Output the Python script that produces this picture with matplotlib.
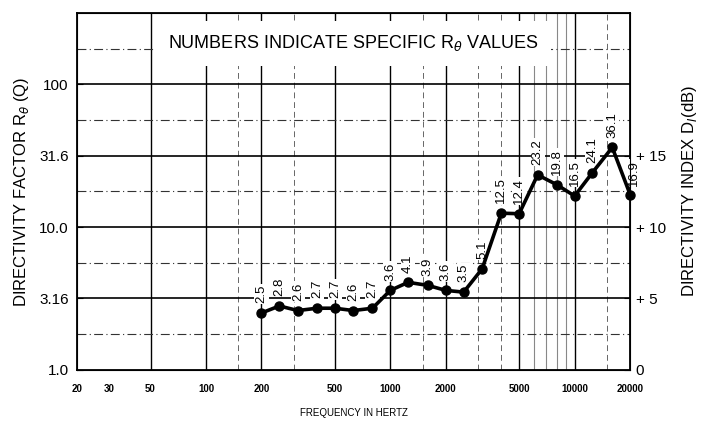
import matplotlib
matplotlib.use("Agg")
import matplotlib.pyplot as plt
import numpy as np

plt.rcParams['font.family'] = ['Liberation Sans', 'DejaVu Sans']

freqs = [200, 250, 315, 400, 500, 630, 800, 1000, 1250, 1600, 2000, 2500,
         3150, 4000, 5000, 6300, 8000, 10000, 12500, 16000, 20000]
q_values = [2.5, 2.8, 2.6, 2.7, 2.7, 2.6, 2.7, 3.6, 4.1, 3.9, 3.6, 3.5,
            5.1, 12.5, 12.4, 23.2, 19.8, 16.5, 24.1, 36.1, 16.9]

x_ticks = [20, 30, 50, 100, 200, 500, 1000, 2000, 5000, 10000, 20000]
y_ticks = [1.0, 3.16, 10.0, 31.6, 100]
y_tick_labels = ["1.0", "3.16", "10.0", "31.6", "100"]
di_ticks = [0, 5, 10, 15]
di_tick_labels = ["0", "+ 5", "+ 10", "+ 15"]

major_v = [50, 100, 200, 500, 1000, 2000, 5000, 10000]
dashed_v = [150, 300, 1500, 3000, 4000, 15000]
thin_v = [6000, 7000, 8000, 9000]
minor_h = [1.778, 5.623, 17.78, 56.23, 177.8]

fig = plt.figure(figsize=(7.08, 4.30), dpi=100)
ax = fig.add_axes([0.109, 0.140, 0.781, 0.830])
ax.set_xscale('log')
ax.set_yscale('log')
ax.set_xlim(20, 20000)
ax.set_ylim(1.0, 316.2)

for v in major_v:
    ax.axvline(v, color='black', lw=1.0, zorder=1)
for v in dashed_v:
    ax.axvline(v, color='#666666', lw=0.7, ls=(0, (6, 4)), zorder=1)
for v in thin_v:
    ax.axvline(v, color='#888888', lw=0.8, zorder=1)
for y in y_ticks[1:]:
    ax.axhline(y, color='black', lw=1.2, zorder=1)
for y in minor_h:
    ax.axhline(y, color='#333333', lw=0.8, ls=(0, (8, 3, 1, 3)), zorder=1)

ax.plot(freqs, q_values, color='black', lw=2.6, marker='o', ms=6.5, zorder=6,
        clip_on=False)

for f, q in zip(freqs, q_values):
    dx, dy = (3, 6) if f == 20000 else (0, 7)
    ax.annotate(f"{q}", (f, q), xytext=(dx, dy), textcoords='offset points',
                rotation=90, ha='center', va='bottom', fontsize=9.5, zorder=4,
                annotation_clip=False,
                bbox=dict(facecolor='white', edgecolor='none', pad=0.8))

ax.text(0.5, 0.915, r"NUMBERS INDICATE SPECIFIC R$_\theta$ VALUES",
        transform=ax.transAxes, ha='center', va='center', fontsize=13,
        bbox=dict(facecolor='white', edgecolor='none', pad=9), zorder=5)

ax.set_xticks(x_ticks)
ax.set_xticklabels([str(t) for t in x_ticks], fontsize=7, fontweight='bold')
ax.xaxis.set_minor_locator(matplotlib.ticker.NullLocator())
ax.set_yticks(y_ticks)
ax.set_yticklabels(y_tick_labels, fontsize=11)
ax.yaxis.set_minor_locator(matplotlib.ticker.NullLocator())
ax.tick_params(axis='x', length=0, pad=10)
ax.tick_params(axis='y', length=4, direction='in', pad=6)
for s in ax.spines.values():
    s.set_linewidth(1.3)

ax.set_xlabel("FREQUENCY IN HERTZ", fontsize=7, labelpad=10)
ax.set_ylabel(r"DIRECTIVITY FACTOR R$_\theta$ (Q)", fontsize=12, labelpad=6)

ax2 = ax.twinx()
ax2.set_ylim(0, 10 * np.log10(316.2))
ax2.set_yticks(di_ticks)
ax2.set_yticklabels(di_tick_labels, fontsize=11)
ax2.tick_params(axis='y', length=4, direction='in', pad=4)
ax2.set_ylabel(r"DIRECTIVITY INDEX D$_I$(dB)", fontsize=12, labelpad=10)

fig.savefig("out.png", dpi=100)
